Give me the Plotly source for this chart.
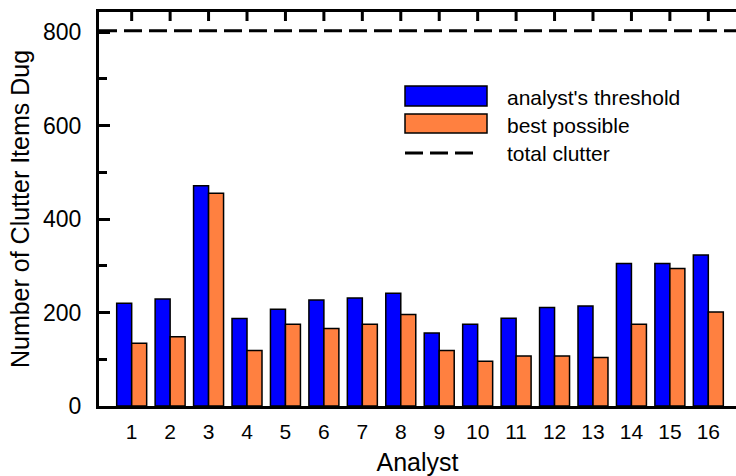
import plotly.graph_objects as go

analysts = list(range(1, 17))
tick_labels = [str(a) for a in analysts]
analyst_threshold = [220, 229, 471, 187, 207, 227, 231, 241, 156, 175, 188, 211, 214, 305, 305, 323]
best_possible = [134, 148, 455, 119, 175, 166, 175, 196, 119, 96, 107, 107, 104, 175, 294, 201]
total_clutter = 803
series_names = ["analyst's threshold", "best possible", "total clutter"]

BLUE = "#0000FF"
ORANGE = "#FF8040"
FONT = "Liberation Sans, Arial, sans-serif"

W, H = 736, 476
ML, MR, MT, MB = 99, 0, 12, 70
x_range = [0.15, 16.72]
y_range = [0, 843]

fig = go.Figure()
fig.add_trace(go.Bar(x=analysts, y=analyst_threshold, name=series_names[0],
                     marker=dict(color=BLUE, line=dict(color="black", width=1.5)),
                     showlegend=False))
fig.add_trace(go.Bar(x=analysts, y=best_possible, name=series_names[1],
                     marker=dict(color=ORANGE, line=dict(color="black", width=1.5)),
                     showlegend=False))
fig.add_trace(go.Scatter(x=x_range, y=[total_clutter, total_clutter], mode="lines",
                         name=series_names[2], line=dict(color="black", width=3, dash="18px,7px"),
                         showlegend=False))

pw = W - ML - MR
ph = H - MT - MB
def px(x):
    return (x - ML) / pw
def py(y):
    return (H - MB - y) / ph

shapes = [
    dict(type="rect", xref="paper", yref="paper", x0=px(405), x1=px(487), y0=py(106), y1=py(86),
         fillcolor=BLUE, line=dict(color="black", width=1.5)),
    dict(type="rect", xref="paper", yref="paper", x0=px(405), x1=px(487), y0=py(133), y1=py(114),
         fillcolor=ORANGE, line=dict(color="black", width=1.5)),
    dict(type="line", xref="paper", yref="paper", x0=px(405), x1=px(479), y0=py(153), y1=py(153),
         line=dict(color="black", width=3, dash="18px,7px")),
]
# inward tick marks along the top frame at every analyst position
TOP_TICK = 9
for a in analysts:
    shapes.append(dict(type="line", xref="x", yref="paper", x0=a, x1=a,
                       y0=1, y1=1 - TOP_TICK / ph, line=dict(color="black", width=3)))

annotations = []
for name, yc in zip(series_names, [97, 125, 153]):
    annotations.append(dict(text=name, xref="paper", yref="paper", x=px(505), y=py(yc),
                            xanchor="left", yanchor="middle", showarrow=False,
                            font=dict(size=21, color="black", family=FONT)))

fig.update_layout(
    width=W, height=H,
    margin=dict(l=ML, r=MR, t=MT, b=MB, pad=0),
    paper_bgcolor="white", plot_bgcolor="white",
    barmode="group", bargap=0.22, bargroupgap=0,
    font=dict(family=FONT, color="black", size=22),
    shapes=shapes, annotations=annotations,
    showlegend=False,
)
fig.update_layout(xaxis=dict(
    range=x_range, tickmode="array", tickvals=analysts, ticktext=tick_labels,
    showline=True, linecolor="black", linewidth=3, mirror=True,
    ticks="", showgrid=False, zeroline=False,
    tickfont=dict(size=21), ticklabelstandoff=5,
    title=dict(text="Analyst", font=dict(size=25), standoff=14),
))
fig.update_layout(yaxis=dict(
    range=y_range, tickmode="array", tickvals=[0, 200, 400, 600, 800],
    showline=True, linecolor="black", linewidth=3, mirror=False,
    ticks="inside", ticklen=11, tickwidth=3, tickcolor="black",
    minor=dict(tickvals=[100, 300, 500, 700], ticks="inside", ticklen=8, tickwidth=3, tickcolor="black"),
    showgrid=False, zeroline=False,
    tickfont=dict(size=23), ticklabelstandoff=10,
    title=dict(text="Number of Clutter Items Dug", font=dict(size=25), standoff=7),
))

fig.write_html("out.html")
